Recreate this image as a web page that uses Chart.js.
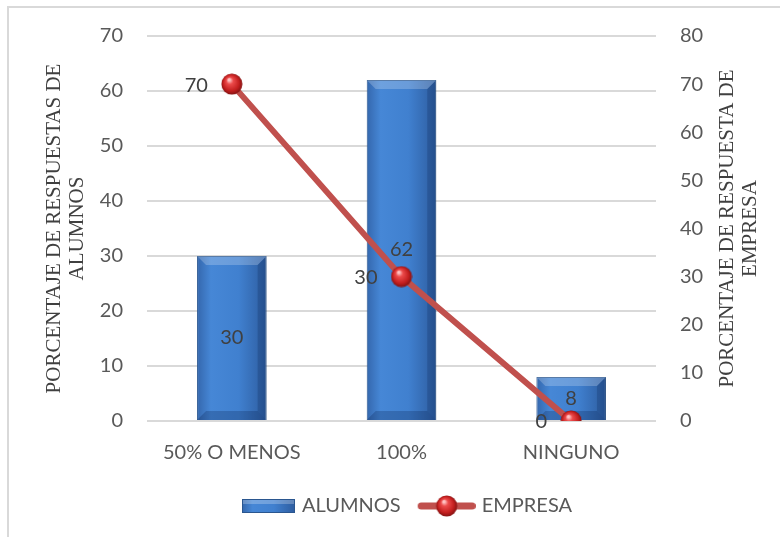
<!DOCTYPE html>
<html>
<head>
<meta charset="utf-8">
<script src="https://cdn.jsdelivr.net/npm/chart.js@4.4.1/dist/chart.umd.min.js"></script>
<style>
  html, body { margin: 0; padding: 0; background: #fff; }
  #wrap { position: relative; width: 780px; height: 537px; overflow: hidden; }
  #frame { position: absolute; left: 7px; top: 6px; width: 800px; height: 600px;
           border-left: 2px solid #d9d9d9; border-top: 2px solid #d9d9d9; }
  canvas { position: absolute; left: 0; top: 0; }
</style>
</head>
<body>
<div id="wrap">
  <div id="frame"></div>
  <canvas id="chart" width="780" height="537"></canvas>
</div>
<script>
/* Alumnos vs empresa: bars on the left axis, line on the right axis. */

const categories = ["50% O MENOS", "100%", "NINGUNO"];
const alumnos = [30, 62, 8];
const empresa = [70, 30, 0];
const leftTicks = [0, 10, 20, 30, 40, 50, 60, 70];
const rightTicks = [0, 10, 20, 30, 40, 50, 60, 70, 80];
const leftTitle = ["PORCENTAJE DE RESPUESTAS DE", "ALUMNOS"];
const rightTitle = ["PORCENTAJE DE RESPUESTA DE", "EMPRESA"];

const COLORS = {
  tick: "#595959",
  label: "#404040",
  grid: "#d9d9d9",
  line: "#c0504d",
  barEdge: "#2a568f",
};

const SANS = "Lato, 'Open Sans', sans-serif";
const SERIF = "'Liberation Serif', 'DejaVu Serif', serif";

// --- little images: red sphere marker and legend swatches ---
function makeSphere(size) {
  const c = document.createElement("canvas");
  c.width = size; c.height = size;
  const g = c.getContext("2d");
  const r = size / 2;
  const grad = g.createRadialGradient(r * 0.75, r * 0.6, 1, r, r, r);
  grad.addColorStop(0, "#ffc4c4");
  grad.addColorStop(0.25, "#ec4b4b");
  grad.addColorStop(0.7, "#c41f1f");
  grad.addColorStop(1, "#7c1111");
  g.fillStyle = grad;
  g.beginPath(); g.arc(r, r, r - 0.5, 0, Math.PI * 2); g.fill();
  return c;
}

function blueFill(g, x0, x1) {
  const grad = g.createLinearGradient(x0, 0, x1, 0);
  grad.addColorStop(0, "#3467ad");
  grad.addColorStop(0.2, "#4687d6");
  grad.addColorStop(0.6, "#4080cf");
  grad.addColorStop(1, "#2d5c9f");
  return grad;
}

// swatches are wider than the legend box so they reach close to the text
function makeBarSwatch() {
  const c = document.createElement("canvas");
  c.width = 68; c.height = 14;
  const g = c.getContext("2d");
  g.fillStyle = blueFill(g, 14, 67);
  g.fillRect(14, 0, 53, 14);
  g.fillStyle = "rgba(255,255,255,0.25)";
  g.fillRect(15, 1, 51, 4);
  g.strokeStyle = COLORS.barEdge;
  g.strokeRect(14.5, 0.5, 52, 13);
  return c;
}

function makeLineSwatch() {
  const c = document.createElement("canvas");
  c.width = 68; c.height = 22;
  const g = c.getContext("2d");
  g.strokeStyle = COLORS.line;
  g.lineWidth = 7;
  g.lineCap = "round";
  g.beginPath(); g.moveTo(13.5, 11); g.lineTo(64.5, 11); g.stroke();
  g.drawImage(makeSphere(22), 28, 0);
  return c;
}

const sphere = makeSphere(22);

// --- plugins ---
const bevelPlugin = {
  id: "bevel",
  afterDatasetDraw(chart, args) {
    if (args.meta.type !== "bar") return;
    const g = chart.ctx;
    g.save();
    args.meta.data.forEach((bar) => {
      const l = bar.x - bar.width / 2, r = bar.x + bar.width / 2;
      const t = bar.y, b = bar.base, d = Math.min(9, (b - t) / 3);
      g.fillStyle = "rgba(255,255,255,0.22)";
      g.beginPath(); g.moveTo(l, t); g.lineTo(r, t); g.lineTo(r - d, t + d); g.lineTo(l + d, t + d); g.closePath(); g.fill();
      g.fillStyle = "rgba(0,20,60,0.18)";
      g.beginPath(); g.moveTo(r, t); g.lineTo(r, b); g.lineTo(r - d, b - d); g.lineTo(r - d, t + d); g.closePath(); g.fill();
      g.fillStyle = "rgba(0,20,60,0.22)";
      g.beginPath(); g.moveTo(l, b); g.lineTo(r, b); g.lineTo(r - d, b - d); g.lineTo(l + d, b - d); g.closePath(); g.fill();
    });
    g.restore();
  },
};

const valueLabels = {
  id: "valueLabels",
  afterDatasetsDraw(chart) {
    const g = chart.ctx;
    g.save();
    g.font = "20px " + SANS;
    g.fillStyle = COLORS.label;
    g.textBaseline = "middle";
    chart.data.datasets.forEach((ds, i) => {
      const meta = chart.getDatasetMeta(i);
      meta.data.forEach((el, j) => {
        if (meta.type === "bar") {
          g.textAlign = "center";
          g.fillText(ds.data[j], el.x, (el.y + el.base) / 2);
        } else {
          g.textAlign = "right";
          g.fillText(ds.data[j], el.x - 24, el.y + 1);
        }
      });
    });
    g.restore();
  },
};

const sideTitles = {
  id: "sideTitles",
  afterDraw(chart) {
    const g = chart.ctx;
    const a = chart.chartArea;
    const cy = (a.top + a.bottom) / 2;
    g.save();
    g.font = "21px " + SERIF;
    g.fillStyle = COLORS.label;
    g.textAlign = "center";
    g.textBaseline = "middle";
    const put = (lines, x0) => {
      lines.forEach((txt, k) => {
        g.save();
        g.translate(x0 + k * 23, cy);
        g.rotate(-Math.PI / 2);
        g.fillText(txt, 0, 0);
        g.restore();
      });
    };
    put(leftTitle, a.left - 93);
    put(rightTitle, a.right + 71);
    g.restore();
  },
};

// --- chart ---
new Chart(document.getElementById("chart"), {
  data: {
    labels: categories,
    datasets: [
      {
        type: "bar",
        label: "ALUMNOS",
        data: alumnos,
        yAxisID: "y",
        order: 1,
        backgroundColor: (ctx) => {
          const chart = ctx.chart;
          const xs = chart.scales.x;
          if (!xs || !chart.chartArea) return "#3f7ecc";
          const cx = xs.getPixelForValue(ctx.dataIndex);
          const half = (chart.chartArea.width / categories.length) * 0.41 / 2;
          return blueFill(chart.ctx, cx - half, cx + half);
        },
        borderColor: COLORS.barEdge,
        borderWidth: 1,
        categoryPercentage: 1,
        barPercentage: 0.41,
      },
      {
        type: "line",
        label: "EMPRESA",
        data: empresa,
        yAxisID: "y1",
        order: 0,
        borderColor: COLORS.line,
        borderWidth: 6,
        pointStyle: sphere,
        pointRadius: 11,
        tension: 0,
      },
    ],
  },
  options: {
    responsive: false,
    animation: false,
    layout: { padding: { top: 36, bottom: 11, left: 24, right: 0 } },
    scales: {
      x: {
        grid: { display: false, drawTicks: false },
        border: { display: false },
        ticks: { color: COLORS.tick, font: { family: SANS, size: 20 }, padding: 20 },
      },
      y: {
        position: "left",
        min: 0,
        max: 70,
        afterBuildTicks: (s) => { s.ticks = leftTicks.map((v) => ({ value: v })); },
        afterFit: (s) => { s.width = 123; },
        grid: { color: COLORS.grid, lineWidth: 2, drawTicks: false },
        border: { display: false },
        ticks: { color: COLORS.tick, font: { family: SANS, size: 20 }, padding: 24 },
      },
      y1: {
        position: "right",
        min: 0,
        max: 80,
        afterBuildTicks: (s) => { s.ticks = rightTicks.map((v) => ({ value: v })); },
        afterFit: (s) => { s.width = 124; },
        grid: { display: false, drawTicks: false },
        border: { display: false },
        ticks: { color: COLORS.tick, font: { family: SANS, size: 20 }, padding: 24 },
      },
    },
    plugins: {
      tooltip: { enabled: false },
      legend: {
        position: "bottom",
        labels: {
          color: COLORS.tick,
          font: { family: SANS, size: 20 },
          usePointStyle: true,
          pointStyleWidth: 60,
          padding: 11,
          generateLabels: () => [
            { text: "ALUMNOS", pointStyle: makeBarSwatch(), datasetIndex: 0, hidden: false, fontColor: COLORS.tick, lineWidth: 0 },
            { text: "EMPRESA", pointStyle: makeLineSwatch(), datasetIndex: 1, hidden: false, fontColor: COLORS.tick, lineWidth: 0 },
          ],
        },
      },
    },
  },
  plugins: [bevelPlugin, valueLabels, sideTitles],
});
</script>
</body>
</html>
